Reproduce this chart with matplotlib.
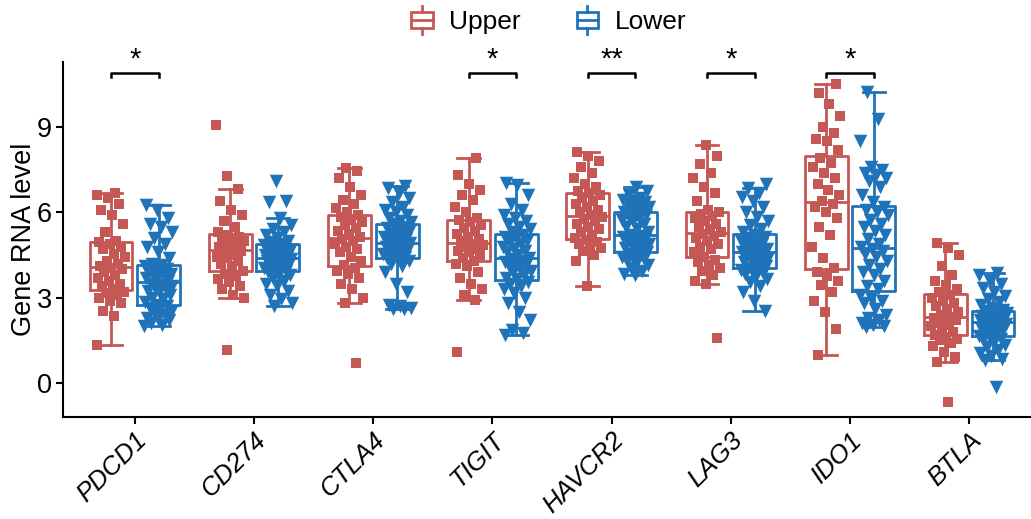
import numpy as np
import matplotlib
matplotlib.use("Agg")
import matplotlib.pyplot as plt
from matplotlib.patches import Rectangle
from matplotlib.lines import Line2D
from matplotlib.legend_handler import HandlerBase

plt.rcParams['font.family'] = ['Liberation Sans', 'DejaVu Sans']

genes = ['PDCD1', 'CD274', 'CTLA4', 'TIGIT', 'HAVCR2', 'LAG3', 'IDO1', 'BTLA']
groups = ['Upper', 'Lower']
signif = {'PDCD1': '*', 'TIGIT': '*', 'HAVCR2': '**', 'LAG3': '*', 'IDO1': '*'}

# values (Upper: squares, Lower: triangles)
pdcd1_upper = [1.34, 2.35, 2.55, 2.8, 2.9, 3.0, 3.1, 3.15, 3.2,
               3.3, 3.4, 3.5, 3.6, 3.7, 3.8, 3.9, 4.0, 4.05,
               4.13, 4.2, 4.3, 4.45, 4.55, 4.7, 4.8, 4.9, 4.95,
               5.0, 5.3, 5.6, 5.9, 6.1, 6.3, 6.5, 6.6, 6.7]
pdcd1_lower = [2.0, 2.05, 2.1, 2.2, 2.25, 2.3, 2.4, 2.45, 2.5, 2.6, 2.65, 2.7,
               2.75, 2.85, 2.95, 3.0, 3.1, 3.2, 3.25, 3.3, 3.35, 3.4, 3.45, 3.5,
               3.58, 3.65, 3.7, 3.75, 3.8, 3.85, 3.9, 3.95, 4.0, 4.05, 4.1, 4.15,
               4.2, 4.4, 4.6, 4.8, 4.9, 5.1, 5.3, 5.5, 5.6, 5.8, 6.1, 6.26]
cd274_upper = [1.16, 3.0, 3.1, 3.3, 3.4, 3.55, 3.65, 3.75, 3.85,
               3.95, 4.1, 4.2, 4.3, 4.4, 4.45, 4.5, 4.6, 4.65,
               4.71, 4.8, 4.85, 4.9, 5.0, 5.05, 5.1, 5.15, 5.2,
               5.3, 5.5, 5.7, 5.9, 6.1, 6.4, 6.82, 7.28, 9.07]
cd274_lower = [2.72, 2.8, 2.95, 3.1, 3.25, 3.4, 3.5, 3.6, 3.7, 3.8, 3.85, 3.9,
               3.95, 4.0, 4.05, 4.1, 4.15, 4.2, 4.25, 4.28, 4.3, 4.33, 4.35, 4.37,
               4.39, 4.42, 4.45, 4.5, 4.55, 4.6, 4.65, 4.7, 4.75, 4.8, 4.84, 4.87,
               4.9, 4.95, 5.0, 5.1, 5.2, 5.3, 5.4, 5.55, 5.79, 6.38, 6.4, 7.11]
ctla4_upper = [0.71, 2.82, 3.0, 3.3, 3.5, 3.7, 3.85, 3.95, 4.05,
               4.15, 4.3, 4.45, 4.6, 4.7, 4.8, 4.9, 5.0, 5.08,
               5.14, 5.25, 5.35, 5.45, 5.55, 5.65, 5.75, 5.85, 5.9,
               6.0, 6.15, 6.3, 6.45, 6.6, 6.9, 7.2, 7.45, 7.57]
ctla4_lower = [2.6, 2.62, 2.65, 2.7, 2.75, 3.2, 3.5, 3.9, 4.1, 4.2, 4.28, 4.34,
               4.4, 4.45, 4.5, 4.55, 4.6, 4.65, 4.7, 4.75, 4.8, 4.85, 4.9, 4.92,
               4.96, 5.0, 5.05, 5.1, 5.15, 5.2, 5.25, 5.3, 5.4, 5.45, 5.5, 5.58,
               5.65, 5.7, 5.8, 5.9, 6.0, 6.1, 6.2, 6.35, 6.5, 6.7, 6.85, 6.94]
tigit_upper = [1.10, 2.92, 3.1, 3.3, 3.5, 3.7, 3.9, 4.1, 4.2,
               4.3, 4.4, 4.5, 4.6, 4.65, 4.7, 4.8, 4.85, 4.9,
               4.98, 5.05, 5.15, 5.25, 5.35, 5.45, 5.55, 5.65, 5.72,
               5.8, 6.0, 6.2, 6.45, 6.6, 6.8, 7.0, 7.3, 7.9]
tigit_lower = [1.69, 1.75, 1.85, 2.2, 2.5, 2.8, 3.0, 3.15, 3.3, 3.4, 3.5, 3.55,
               3.65, 3.7, 3.8, 3.9, 3.95, 4.0, 4.1, 4.15, 4.2, 4.25, 4.3, 4.35,
               4.41, 4.5, 4.6, 4.65, 4.7, 4.8, 4.9, 4.95, 5.0, 5.1, 5.15, 5.22,
               5.3, 5.4, 5.5, 5.6, 5.7, 5.8, 5.9, 6.1, 6.3, 6.6, 6.95, 7.04]
havcr2_upper = [3.42, 4.3, 4.5, 4.65, 4.75, 4.85, 4.9, 4.95, 5.02,
                5.1, 5.2, 5.3, 5.4, 5.5, 5.6, 5.7, 5.78, 5.85,
                5.91, 6.0, 6.1, 6.2, 6.3, 6.4, 6.5, 6.6, 6.68,
                6.75, 6.9, 7.0, 7.2, 7.4, 7.6, 7.8, 8.0, 8.11]
havcr2_lower = [3.8, 3.85, 3.95, 4.05, 4.15, 4.25, 4.3, 4.35, 4.4, 4.45, 4.5, 4.55,
                4.62, 4.68, 4.75, 4.8, 4.85, 4.9, 4.95, 5.0, 5.05, 5.1, 5.15, 5.18,
                5.22, 5.3, 5.4, 5.5, 5.6, 5.7, 5.75, 5.8, 5.85, 5.9, 5.95, 6.0,
                6.1, 6.15, 6.2, 6.25, 6.3, 6.35, 6.4, 6.45, 6.5, 6.6, 6.75, 6.88]
lag3_upper = [1.59, 3.47, 3.6, 3.8, 3.95, 4.05, 4.15, 4.25, 4.33,
              4.45, 4.6, 4.7, 4.8, 4.9, 5.0, 5.1, 5.18, 5.24,
              5.32, 5.4, 5.5, 5.6, 5.7, 5.8, 5.88, 5.95, 6.0,
              6.1, 6.4, 6.7, 6.9, 7.2, 7.4, 7.7, 8.0, 8.37]
lag3_lower = [2.54, 2.9, 3.2, 3.4, 3.55, 3.65, 3.75, 3.82, 3.88, 3.93, 3.97, 4.0,
              4.06, 4.12, 4.18, 4.25, 4.3, 4.35, 4.4, 4.45, 4.5, 4.55, 4.58, 4.6,
              4.64, 4.68, 4.72, 4.78, 4.84, 4.9, 4.95, 5.0, 5.05, 5.1, 5.15, 5.2,
              5.3, 5.4, 5.55, 5.7, 5.85, 6.0, 6.2, 6.4, 6.55, 6.7, 6.85, 7.0]
ido1_upper = [0.98, 1.9, 2.5, 2.9, 3.2, 3.45, 3.6, 3.75, 3.9,
              4.05, 4.4, 4.8, 5.2, 5.5, 5.8, 6.0, 6.2, 6.3,
              6.4, 6.6, 6.8, 7.0, 7.2, 7.4, 7.6, 7.75, 7.9,
              8.2, 8.5, 8.6, 8.8, 9.0, 9.4, 9.8, 10.2, 10.5]
ido1_lower = [1.98, 2.0, 2.05, 2.1, 2.2, 2.3, 2.4, 2.6, 2.8, 2.9, 3.0, 3.1,
              3.3, 3.4, 3.6, 3.8, 3.9, 4.0, 4.15, 4.3, 4.45, 4.55, 4.65, 4.72,
              4.8, 4.9, 5.05, 5.2, 5.35, 5.5, 5.6, 5.75, 5.9, 6.0, 6.1, 6.2,
              6.35, 6.6, 6.9, 7.1, 7.2, 7.3, 7.4, 7.5, 7.6, 8.5, 9.3, 10.22]
btla_upper = [-0.66, 0.75, 0.9, 1.1, 1.3, 1.4, 1.5, 1.55, 1.62,
              1.7, 1.8, 1.9, 2.0, 2.05, 2.1, 2.2, 2.25, 2.28,
              2.34, 2.4, 2.5, 2.6, 2.7, 2.8, 2.9, 3.0, 3.1,
              3.2, 3.3, 3.45, 3.6, 3.8, 4.1, 4.5, 4.75, 4.94]
btla_lower = [-0.13, 0.81, 0.85, 0.95, 1.05, 1.15, 1.25, 1.35, 1.45, 1.5, 1.55, 1.6,
              1.66, 1.72, 1.78, 1.85, 1.9, 1.95, 2.0, 2.05, 2.08, 2.1, 2.12, 2.14,
              2.18, 2.2, 2.23, 2.26, 2.3, 2.33, 2.36, 2.4, 2.43, 2.46, 2.5, 2.52,
              2.58, 2.65, 2.75, 2.85, 2.95, 3.05, 3.2, 3.35, 3.5, 3.6, 3.8, 3.86]

upper = [pdcd1_upper, cd274_upper, ctla4_upper, tigit_upper,
         havcr2_upper, lag3_upper, ido1_upper, btla_upper]
lower = [pdcd1_lower, cd274_lower, ctla4_lower, tigit_lower,
         havcr2_lower, lag3_lower, ido1_lower, btla_lower]

red = '#C55754'
blue = '#1F73B8'
offset = 0.2
jit = 0.12


class BoxHandler(HandlerBase):
    # little boxplot glyph for the legend
    def create_artists(self, legend, orig_handle, xdescent, ydescent,
                       width, height, fontsize, trans):
        c = orig_handle.get_color()
        cx = width / 2 - xdescent
        bw = width * 0.95
        bh = height * 0.7
        y0 = -ydescent + (height - bh) / 2
        rect = Rectangle((cx - bw / 2, y0), bw, bh, fill=False,
                         edgecolor=c, lw=2, transform=trans)
        mid = Line2D([cx - bw / 2, cx + bw / 2], [y0 + bh / 2] * 2,
                     color=c, lw=2, transform=trans)
        top = Line2D([cx, cx], [y0 + bh, y0 + bh + height * 0.25],
                     color=c, lw=2, transform=trans)
        bot = Line2D([cx, cx], [y0, y0 - height * 0.25],
                     color=c, lw=2, transform=trans)
        return [rect, mid, top, bot]


fig = plt.figure(figsize=(10.31, 5.19), dpi=100)
ax = fig.add_axes([0.061, 0.1965, 0.938, 0.684])

x = np.arange(len(genes))
for data, sign, col, mk, sz in [(upper, -1, red, 's', 52), (lower, 1, blue, 'v', 95)]:
    pos = x + sign * offset
    ax.boxplot(data, positions=pos, widths=0.36, showfliers=False,
               manage_ticks=False, capwidths=0.19,
               boxprops=dict(color=col, lw=2),
               medianprops=dict(color=col, lw=2),
               whiskerprops=dict(color=col, lw=2),
               capprops=dict(color=col, lw=2))
    for i, vals in enumerate(data):
        n = len(vals)
        dx = ((np.arange(n) * 0.618034 + i * 0.37) % 1 - 0.5) * 2 * jit
        ax.scatter(pos[i] + dx, vals, marker=mk, s=sz, color=col,
                   linewidths=0, zorder=3)

# significance brackets
for i, g in enumerate(genes):
    if g in signif:
        x0, x1 = i - offset, i + offset
        ax.plot([x0, x0, x1, x1], [10.75, 10.9, 10.9, 10.75], color='black',
                lw=1.8, clip_on=False)
        ax.text(i, 10.9, signif[g], ha='center', va='bottom', fontsize=21,
                clip_on=False)

ax.set_xlim(-0.604, 7.51)
ax.set_ylim(-1.195, 11.29)
ax.set_yticks([0, 3, 6, 9])
ax.set_xticks(x)
ax.set_xticklabels(genes, rotation=45, ha='right', rotation_mode='anchor',
                   fontstyle='italic', fontsize=18.5)
ax.tick_params(axis='y', labelsize=19.5, width=1.5, length=5, pad=3)
ax.tick_params(axis='x', width=1.5, length=5, pad=3)
ax.set_ylabel('Gene RNA level', fontsize=19.5)
ax.yaxis.set_label_coords(-0.027, 0.5)
for s in ['top', 'right']:
    ax.spines[s].set_visible(False)
for s in ['left', 'bottom']:
    ax.spines[s].set_linewidth(1.5)

handles = [Line2D([], [], color=red), Line2D([], [], color=blue)]
fig.legend(handles, groups, handler_map={Line2D: BoxHandler()},
           loc='upper center', bbox_to_anchor=(0.532, 1.03), ncol=2,
           frameon=False, fontsize=19, handlelength=0.85, handleheight=1.0,
           columnspacing=2.1, handletextpad=0.6)

fig.savefig('out.png', dpi=100)
